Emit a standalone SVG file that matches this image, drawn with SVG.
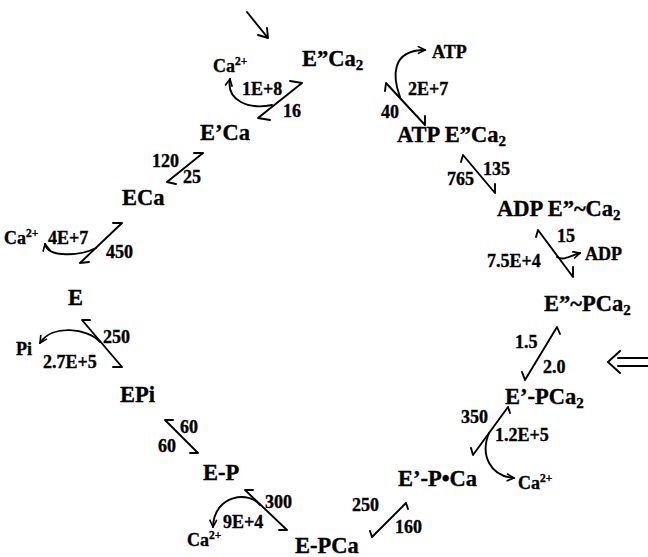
<svg xmlns="http://www.w3.org/2000/svg" width="648" height="557" viewBox="0 0 648 557">
<defs>
<style>
text { font-family: "Liberation Serif", "Times New Roman", serif; font-weight: bold; fill: #000; stroke: #000; stroke-width: 0.35; }
.n { font-size: 22.5px; }
.k { font-size: 18px; }
.s { font-size: 18px; }
.sub { font-size: 15px; }
.sup { font-size: 11.5px; }
.l { fill: none; stroke: #000; stroke-width: 1.9; stroke-linecap: round; stroke-linejoin: round; }
</style>
<marker id="ah" viewBox="0 0 10 10" refX="9" refY="5" markerWidth="9" markerHeight="9" markerUnits="userSpaceOnUse" orient="auto">
<path d="M1,1 L9,5 L1,9" fill="none" stroke="#000" stroke-width="1.8"/>
</marker>
</defs>
<rect width="648" height="557" fill="#fff"/>

<g id="connectors">
<path class="l" d="M247,12 L268,38 M258,35 L268,38 L267,28"/>
<path class="l" d="M618,358 L648,358 M618,366 L648,366 M620,351 L608,362 L620,373"/>
<path class="l" d="M290,81 L302,83 L258,118 L270,120"/>
<path class="l" d="M385,91 L386,83 L425,125 L425,116"/>
<path class="l" d="M194,153 L203,153 L167,182 L176,184"/>
<path class="l" d="M461,162 L463,155 L495,193 L495,184"/>
<path class="l" d="M113,223 L122,223 L80,263 L89,262"/>
<path class="l" d="M536,237 L538,230 L573,277 L573,267"/>
<path class="l" d="M90,320 L82,320 L122,367 L113,367"/>
<path class="l" d="M560,334 L557,327 L525,380 L522,372"/>
<path class="l" d="M173,420 L165,420 L198,453 L190,453"/>
<path class="l" d="M510,413 L508,407 L473,455 L471,448"/>
<path class="l" d="M253,490 L245,490 L287,530 L279,530"/>
<path class="l" d="M408,509 L406,503 L372,537 L370,531"/>
<path class="l" d="M272,105 C248,110 226,100 230,79" marker-end="url(#ah)"/>
<path class="l" d="M400,97 C393,78 390,50 425,50" marker-end="url(#ah)"/>
<path class="l" d="M96,248 C80,256 48,258 45,244" marker-end="url(#ah)"/>
<path class="l" d="M557,257 C564,261 570,256 580,253" marker-end="url(#ah)"/>
<path class="l" d="M100,342 C88,328 52,324 40,343" marker-end="url(#ah)"/>
<path class="l" d="M489,433 C480,455 490,476 514,478" marker-end="url(#ah)"/>
<path class="l" d="M260,505 C250,491 214,494 213,527" marker-end="url(#ah)"/>
</g>

<g id="n-E2Ca2"><text class="n" x="302" y="66">E”Ca<tspan class="sub" dy="4">2</tspan></text></g>
<g id="n-ATPE2Ca2"><text class="n" x="397" y="142">ATP E”Ca<tspan class="sub" dy="4">2</tspan></text></g>
<g id="n-ADPE2Ca2"><text class="n" x="497" y="216">ADP E”~Ca<tspan class="sub" dy="4">2</tspan></text></g>
<g id="n-E2PCa2"><text class="n" x="544" y="311">E”~PCa<tspan class="sub" dy="4">2</tspan></text></g>
<g id="n-E1PCa2"><text class="n" x="505" y="404">E’-PCa<tspan class="sub" dy="4">2</tspan></text></g>
<g id="n-E1PCa"><text class="n" x="398" y="486">E’-P•Ca</text></g>
<g id="n-EPCa"><text class="n" x="295" y="553">E-PCa</text></g>
<g id="n-EP"><text class="n" x="203" y="480">E-P</text></g>
<g id="n-EPi"><text class="n" x="120" y="402">EPi</text></g>
<g id="n-E"><text class="n" x="68" y="305">E</text></g>
<g id="n-ECa"><text class="n" x="122" y="205">ECa</text></g>
<g id="n-E1Ca"><text class="n" x="200" y="140">E’Ca</text></g>

<g id="labels">
<text class="s" x="213" y="72">Ca<tspan class="sup" dy="-7">2+</tspan></text>
<text class="k" x="242" y="95">1E+8</text>
<text class="k" x="283" y="117">16</text>
<text class="s" x="432" y="58">ATP</text>
<text class="k" x="408" y="95">2E+7</text>
<text class="k" x="381" y="118">40</text>
<text class="k" x="152" y="167">120</text>
<text class="k" x="183" y="183">25</text>
<text class="k" x="483" y="175">135</text>
<text class="k" x="447" y="185">765</text>
<text class="s" x="4" y="244">Ca<tspan class="sup" dy="-7">2+</tspan></text>
<text class="k" x="48" y="244">4E+7</text>
<text class="k" x="106" y="258">450</text>
<text class="k" x="557" y="242">15</text>
<text class="k" x="487" y="267">7.5E+4</text>
<text class="s" x="585" y="260">ADP</text>
<text class="k" x="103" y="343">250</text>
<text class="s" x="16" y="355">Pi</text>
<text class="k" x="43" y="368">2.7E+5</text>
<text class="k" x="515" y="348">1.5</text>
<text class="k" x="543" y="373">2.0</text>
<text class="k" x="180" y="433">60</text>
<text class="k" x="158" y="452">60</text>
<text class="k" x="461" y="423">350</text>
<text class="k" x="495" y="441">1.2E+5</text>
<text class="s" x="518" y="489">Ca<tspan class="sup" dy="-7">2+</tspan></text>
<text class="k" x="265" y="508">300</text>
<text class="k" x="223" y="528">9E+4</text>
<text class="s" x="187" y="546">Ca<tspan class="sup" dy="-7">2+</tspan></text>
<text class="k" x="352" y="511">250</text>
<text class="k" x="395" y="533">160</text>
</g>
</svg>
